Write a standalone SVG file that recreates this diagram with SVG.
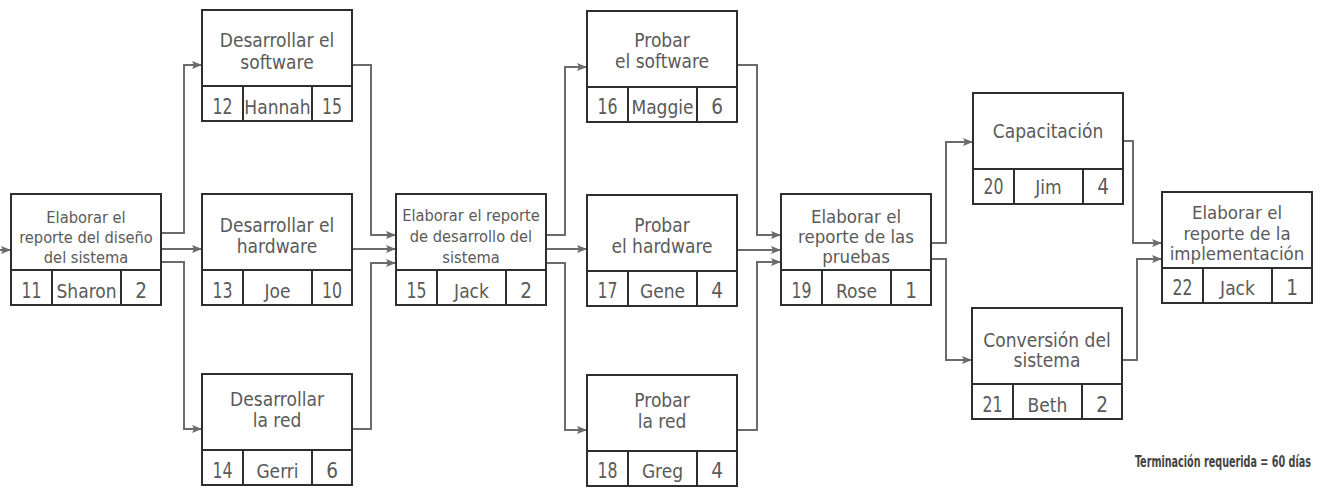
<svg xmlns="http://www.w3.org/2000/svg" width="1322" height="488" viewBox="0 0 1322 488">
<style>
.box{fill:#fff;stroke:#2e2e2e;stroke-width:2}
.div{stroke:#2e2e2e;stroke-width:2;fill:none}
.t{font-family:"DejaVu Sans Condensed","Liberation Sans",sans-serif;fill:#5a5a5a;text-anchor:middle}
.ti{font-size:19px}
.tm{font-size:18.5px}
.ts{font-size:16.3px}
.c{font-size:19px}
.n{font-size:20.5px}
.con{fill:none;stroke:#6b6b6b;stroke-width:2;marker-end:url(#ah)}
.foot{font-family:"DejaVu Sans Condensed","Liberation Sans",sans-serif;font-weight:bold;font-size:16px;fill:#444;text-anchor:end}
</style>
<defs>
<marker id="ah" markerUnits="userSpaceOnUse" markerWidth="12" markerHeight="10" refX="10" refY="5" orient="auto">
<path d="M0,1 L10,5 L0,9 L2,5 z" fill="#6b6b6b"/>
</marker>
<g id="frame">
<rect class="box" x="0" y="0" width="150" height="111"/>
<path class="div" d="M0,76 H150 M41,76 V111 M110,76 V111"/>
</g>
</defs>

<g id="connectors">
<path class="con" d="M0,250 H11"/>
<path class="con" d="M161,233 H184 V65 H202"/>
<path class="con" d="M161,249 H202"/>
<path class="con" d="M161,262 H184 V429 H202"/>
<path class="con" d="M352,65 H371 V235 H396"/>
<path class="con" d="M352,249 H396"/>
<path class="con" d="M352,429 H371 V263 H396"/>
<path class="con" d="M546,235 H565 V67 H587"/>
<path class="con" d="M546,249 H587"/>
<path class="con" d="M546,263 H565 V430 H587"/>
<path class="con" d="M737,65 H757 V235 H781"/>
<path class="con" d="M737,250 H781"/>
<path class="con" d="M737,430 H757 V262 H781"/>
<path class="con" d="M931,243 H946 V142 H973"/>
<path class="con" d="M931,259 H946 V360 H972"/>
<path class="con" d="M1123,141 H1133 V243 H1162"/>
<path class="con" d="M1122,360 H1137 V259 H1162"/>
</g>

<g id="node11" transform="translate(11,194)">
<use href="#frame"/>
<text class="t ts" x="75" y="29">Elaborar el</text>
<text class="t ts" x="75" y="49">reporte del diseño</text>
<text class="t ts" x="75" y="69">del sistema</text>
<text class="t n" x="20.5" y="104" textLength="20" lengthAdjust="spacingAndGlyphs">11</text>
<text class="t c" x="75.5" y="104">Sharon</text>
<text class="t n" x="130" y="104">2</text>
</g>

<g id="node12" transform="translate(202,10)">
<use href="#frame"/>
<text class="t ti" x="75" y="37">Desarrollar el</text>
<text class="t ti" x="75" y="59">software</text>
<text class="t n" x="20.5" y="104" textLength="20" lengthAdjust="spacingAndGlyphs">12</text>
<text class="t c" x="75.5" y="104">Hannah</text>
<text class="t n" x="130" y="104" textLength="20" lengthAdjust="spacingAndGlyphs">15</text>
</g>

<g id="node13" transform="translate(202,194)">
<use href="#frame"/>
<text class="t ti" x="75" y="38">Desarrollar el</text>
<text class="t ti" x="75" y="59">hardware</text>
<text class="t n" x="20.5" y="104" textLength="20" lengthAdjust="spacingAndGlyphs">13</text>
<text class="t c" x="75.5" y="104">Joe</text>
<text class="t n" x="130" y="104" textLength="20" lengthAdjust="spacingAndGlyphs">10</text>
</g>

<g id="node14" transform="translate(202,374)">
<use href="#frame"/>
<text class="t ti" x="75" y="32">Desarrollar</text>
<text class="t ti" x="75" y="53">la red</text>
<text class="t n" x="20.5" y="104" textLength="20" lengthAdjust="spacingAndGlyphs">14</text>
<text class="t c" x="75.5" y="104">Gerri</text>
<text class="t n" x="130" y="104">6</text>
</g>

<g id="node15" transform="translate(396,194)">
<use href="#frame"/>
<text class="t ts" x="75" y="27">Elaborar el reporte</text>
<text class="t ts" x="75" y="48">de desarrollo del</text>
<text class="t ts" x="75" y="69">sistema</text>
<text class="t n" x="20.5" y="104" textLength="20" lengthAdjust="spacingAndGlyphs">15</text>
<text class="t c" x="75.5" y="104">Jack</text>
<text class="t n" x="130" y="104">2</text>
</g>

<g id="node16" transform="translate(587,11)">
<use href="#frame"/>
<text class="t ti" x="75" y="36">Probar</text>
<text class="t ti" x="75" y="57">el software</text>
<text class="t n" x="20.5" y="103" textLength="20" lengthAdjust="spacingAndGlyphs">16</text>
<text class="t c" x="75.5" y="103">Maggie</text>
<text class="t n" x="130" y="103">6</text>
</g>

<g id="node17" transform="translate(587,195)">
<use href="#frame"/>
<text class="t ti" x="75" y="37">Probar</text>
<text class="t ti" x="75" y="58">el hardware</text>
<text class="t n" x="20.5" y="103" textLength="20" lengthAdjust="spacingAndGlyphs">17</text>
<text class="t c" x="75.5" y="103">Gene</text>
<text class="t n" x="130" y="103">4</text>
</g>

<g id="node18" transform="translate(587,375)">
<use href="#frame"/>
<text class="t ti" x="75" y="32">Probar</text>
<text class="t ti" x="75" y="53">la red</text>
<text class="t n" x="20.5" y="103" textLength="20" lengthAdjust="spacingAndGlyphs">18</text>
<text class="t c" x="75.5" y="103">Greg</text>
<text class="t n" x="130" y="103">4</text>
</g>

<g id="node19" transform="translate(781,194)">
<use href="#frame"/>
<text class="t tm" x="75" y="29">Elaborar el</text>
<text class="t tm" x="75" y="49">reporte de las</text>
<text class="t tm" x="75" y="69">pruebas</text>
<text class="t n" x="20.5" y="104" textLength="20" lengthAdjust="spacingAndGlyphs">19</text>
<text class="t c" x="75.5" y="104">Rose</text>
<text class="t n" x="130" y="104">1</text>
</g>

<g id="node20" transform="translate(973,93)">
<use href="#frame"/>
<text class="t ti" x="75" y="45">Capacitación</text>
<text class="t n" x="20.5" y="101" textLength="20" lengthAdjust="spacingAndGlyphs">20</text>
<text class="t c" x="75.5" y="101">Jim</text>
<text class="t n" x="130" y="101">4</text>
</g>

<g id="node21" transform="translate(972,308)">
<use href="#frame"/>
<text class="t ti" x="75" y="39">Conversión del</text>
<text class="t ti" x="75" y="59">sistema</text>
<text class="t n" x="20.5" y="104" textLength="20" lengthAdjust="spacingAndGlyphs">21</text>
<text class="t c" x="75.5" y="104">Beth</text>
<text class="t n" x="130" y="104">2</text>
</g>

<g id="node22" transform="translate(1162,192)">
<use href="#frame"/>
<text class="t tm" x="75" y="27">Elaborar el</text>
<text class="t tm" x="75" y="48">reporte de la</text>
<text class="t tm" x="75" y="68">implementación</text>
<text class="t n" x="20.5" y="103" textLength="20" lengthAdjust="spacingAndGlyphs">22</text>
<text class="t c" x="75.5" y="103">Jack</text>
<text class="t n" x="130" y="103">1</text>
</g>

<text class="foot" transform="translate(1311,467) scale(0.67,1)" x="0" y="0">Terminación requerida = 60 días</text>
</svg>
